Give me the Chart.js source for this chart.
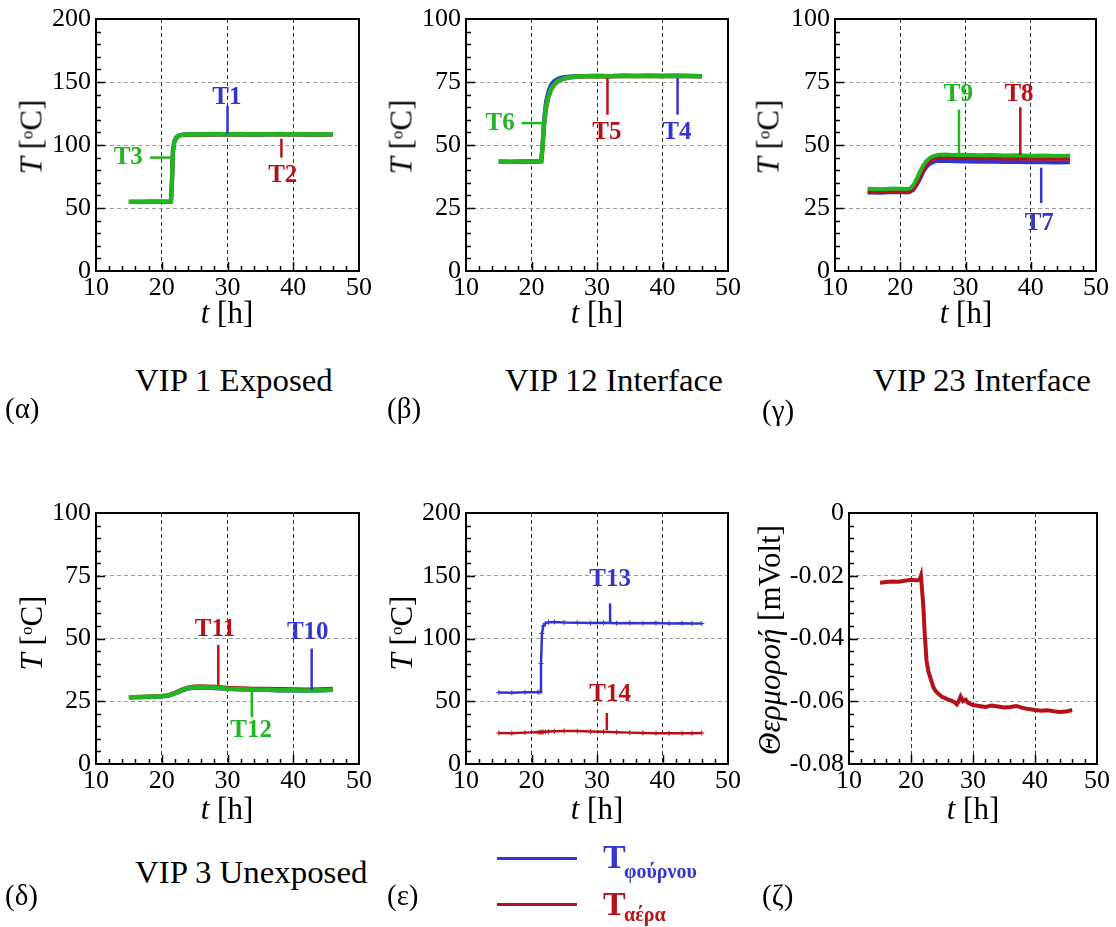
<!DOCTYPE html>
<html>
<head>
<meta charset="utf-8">
<script src="https://cdn.jsdelivr.net/npm/chart.js@4.4.0/dist/chart.umd.min.js"></script>
<style>
body { margin: 0; background: #fff; }
#page { position: relative; width: 1116px; height: 927px; overflow: hidden; font-family: 'Liberation Serif', 'DejaVu Serif', 'Noto Serif', serif; color: #000; }
.panel { position: absolute; }
.txt { position: absolute; white-space: nowrap; line-height: 1; }
.ctr { transform: translate(-50%, -50%); }
.rot { transform: translate(-50%, -50%) rotate(-90deg); }
.axt { font-size: 31px; }
.cap { font-size: 31px; transform: scaleX(1.06); transform-origin: 0 50%; }
.lab { font-size: 29px; }
sup.o { font-size: 0.55em; vertical-align: 0.55em; }
</style>
</head>
<body>
<div id="page">
    <div class="panel" id="pA"><canvas id="cA"></canvas></div>
    <div class="panel" id="pB"><canvas id="cB"></canvas></div>
    <div class="panel" id="pC"><canvas id="cC"></canvas></div>
    <div class="panel" id="pD"><canvas id="cD"></canvas></div>
    <div class="panel" id="pE"><canvas id="cE"></canvas></div>
    <div class="panel" id="pF"><canvas id="cF"></canvas></div>

    <!-- axis titles -->
    <div class="txt axt rot" style="left:31px;top:137px"><i>T</i> [<sup class="o">o</sup>C]</div>
    <div class="txt axt ctr" style="left:227px;top:312px"><i>t</i> [h]</div>
    <div class="txt axt rot" style="left:401px;top:137px"><i>T</i> [<sup class="o">o</sup>C]</div>
    <div class="txt axt ctr" style="left:597px;top:312px"><i>t</i> [h]</div>
    <div class="txt axt rot" style="left:768px;top:137px"><i>T</i> [<sup class="o">o</sup>C]</div>
    <div class="txt axt ctr" style="left:966px;top:312px"><i>t</i> [h]</div>
    <div class="txt axt rot" style="left:31px;top:633px"><i>T</i> [<sup class="o">o</sup>C]</div>
    <div class="txt axt ctr" style="left:227px;top:808px"><i>t</i> [h]</div>
    <div class="txt axt rot" style="left:401px;top:633px"><i>T</i> [<sup class="o">o</sup>C]</div>
    <div class="txt axt ctr" style="left:597px;top:808px"><i>t</i> [h]</div>
    <div class="txt axt rot" style="left:769px;top:640px"><i>Θερμοροή</i> [mVolt]</div>
    <div class="txt axt ctr" style="left:973px;top:808px"><i>t</i> [h]</div>

    <!-- captions -->
    <div class="txt lab" style="left:5px;top:394px">(α)</div>
    <div class="txt cap" style="left:135px;top:365px">VIP 1 Exposed</div>
    <div class="txt lab" style="left:387px;top:394px">(β)</div>
    <div class="txt cap" style="left:505px;top:365px">VIP 12 Interface</div>
    <div class="txt lab" style="left:762px;top:396px">(γ)</div>
    <div class="txt cap" style="left:873px;top:365px">VIP 23 Interface</div>
    <div class="txt lab" style="left:5px;top:881px">(δ)</div>
    <div class="txt cap" style="left:135px;top:857px">VIP 3 Unexposed</div>
    <div class="txt lab" style="left:387px;top:881px">(ε)</div>
    <div class="txt lab" style="left:762px;top:881px">(ζ)</div>

    <!-- legend of panel (ε) -->
    <div style="position:absolute;left:497px;top:857px;width:80px;height:3px;background:#3434d0"></div>
    <div style="position:absolute;left:497px;top:903px;width:80px;height:3px;background:#b51218"></div>
    <div class="txt" style="left:603px;top:840px;font-size:34px;font-weight:bold;color:#3434d0">T</div>
    <div class="txt" style="left:624px;top:861px;font-size:20px;font-weight:bold;color:#3434d0">φούρνου</div>
    <div class="txt" style="left:603px;top:887px;font-size:34px;font-weight:bold;color:#b51218">T</div>
    <div class="txt" style="left:624px;top:904px;font-size:20px;font-weight:bold;color:#b51218">αέρα</div>
</div>

<script>
var GREEN = '#22b522';
var BLUE = '#3434d0';
var RED = '#b51218';
var SERIF = "'Liberation Serif', 'DejaVu Serif', 'Noto Serif', serif";

// (α) VIP 1 Exposed
var tA = [15, 17, 19, 21, 21.4, 21.55, 21.7, 21.9, 22.2, 22.6, 23.2, 24, 26, 28, 30, 32, 34, 36, 38, 40, 42, 44, 46];
var t1A = [54.9, 55.0, 55.1, 55.0, 55.1, 71, 96, 103, 106, 107.6, 108.3, 108.5, 108.3, 108.6, 108.4, 108.6, 108.3, 108.5, 108.6, 108.4, 108.5, 108.3, 108.4];
var t2A = [54.8, 54.9, 55.0, 54.9, 55.0, 69, 94, 102, 105.4, 107.2, 108.0, 108.3, 108.2, 108.4, 108.3, 108.5, 108.2, 108.4, 108.5, 108.3, 108.4, 108.2, 108.3];
var t3A = [55.0, 54.8, 55.0, 55.1, 55.2, 70, 95, 102, 105.5, 107.3, 108.2, 108.6, 108.4, 108.7, 108.5, 108.8, 108.4, 108.6, 108.7, 108.5, 108.6, 108.4, 108.5];

// (β) VIP 12 Interface
var tB = [15, 17, 19, 21, 21.5, 21.7, 21.9, 22.2, 22.6, 23, 23.5, 24, 24.6, 25.4, 26.5, 28, 30, 32, 34, 36, 38, 40, 42, 44, 46];
var t4B = [43.5, 43.4, 43.6, 43.5, 43.7, 51, 60, 67, 71.5, 74, 75.5, 76.3, 76.8, 77.1, 77.3, 77.4, 77.5, 77.4, 77.6, 77.5, 77.6, 77.5, 77.6, 77.5, 77.4];
var t5B = [43.4, 43.3, 43.5, 43.4, 43.5, 49, 57, 64, 69, 72, 74, 75.1, 76, 76.6, 77.0, 77.2, 77.3, 77.2, 77.4, 77.3, 77.4, 77.3, 77.4, 77.3, 77.2];
var t6B = [43.5, 43.4, 43.6, 43.5, 43.6, 50, 58, 65, 69.5, 72.5, 74.2, 75.3, 76.1, 76.7, 77.1, 77.3, 77.4, 77.3, 77.5, 77.4, 77.5, 77.4, 77.5, 77.4, 77.3];

// (γ) VIP 23 Interface
var tC = [15, 17, 19, 21, 21.5, 22, 22.5, 23, 23.5, 24, 24.5, 25, 25.5, 26, 27, 28, 30, 32, 34, 36, 38, 40, 42, 44, 46];
var t7C = [31.2, 31.1, 31.3, 31.2, 31.4, 32.2, 34, 36.5, 39.2, 41.3, 42.5, 43.2, 43.5, 43.7, 43.7, 43.6, 43.5, 43.4, 43.4, 43.3, 43.3, 43.2, 43.2, 43.1, 43.2];
var t8C = [31.4, 31.3, 31.5, 31.4, 31.6, 32.5, 34.5, 37.2, 40, 42.2, 43.5, 44.3, 44.7, 44.9, 45.0, 44.8, 44.9, 44.7, 44.8, 44.6, 44.7, 44.5, 44.6, 44.5, 44.5];
var t9C = [32.6, 32.4, 32.7, 32.5, 32.8, 34, 36.5, 39.2, 41.8, 43.6, 44.8, 45.5, 45.9, 46.1, 46.2, 46.0, 46.1, 45.9, 46.0, 45.8, 45.9, 45.7, 45.8, 45.6, 45.7];

// (δ) VIP 3 Unexposed
var tD = [15, 17, 19, 20, 21, 22, 23, 24, 25, 26, 27, 28, 29, 30, 32, 34, 36, 38, 40, 42, 44, 46];
var t10D = [26.5, 26.6, 26.8, 26.9, 27.2, 28.0, 29.1, 30.0, 30.4, 30.5, 30.4, 30.2, 30.1, 29.9, 29.7, 29.5, 29.5, 29.3, 29.3, 29.2, 29.3, 29.5];
var t11D = [26.6, 26.8, 27.0, 27.1, 27.4, 28.4, 29.6, 30.5, 30.9, 31.0, 30.9, 30.8, 30.6, 30.4, 30.2, 30.0, 30.0, 29.9, 29.8, 29.7, 29.8, 30.0];
var t12D = [26.6, 26.7, 26.9, 27.0, 27.3, 28.2, 29.3, 30.2, 30.6, 30.7, 30.6, 30.4, 30.3, 30.0, 29.8, 29.6, 29.6, 29.4, 29.4, 29.3, 29.4, 29.6];

// (ε) oven and air
var tE = [15, 17, 19, 21, 21.3, 21.45, 21.6, 21.8, 22.1, 22.6, 23.5, 25, 27, 29, 31, 33, 35, 37, 39, 41, 43, 44.5, 46];
var t13E = [57.0, 56.8, 57.1, 57.2, 57.4, 80, 104, 110, 112, 113, 113.2, 112.8, 112.6, 112.3, 112.5, 112.2, 112.4, 112.1, 112.3, 112.0, 112.2, 112.0, 111.9];
var t14E = [24.7, 24.6, 25.0, 25.3, 25.3, 25.4, 25.4, 25.5, 25.6, 25.8, 26.0, 26.3, 26.2, 25.9, 25.6, 25.3, 25.0, 24.8, 24.6, 24.5, 24.5, 24.6, 24.7];

// (ζ) heat flux
var tF = [15, 16, 17, 18, 19, 20, 21, 21.4, 21.6, 21.8, 22.0, 22.2, 22.5, 22.8, 23.2, 23.6, 24, 24.5, 25, 25.5, 26, 26.5, 27, 27.4, 27.7, 28, 28.4, 28.8, 29.2, 30, 31, 32, 33, 34, 35, 36, 37, 38, 39, 40, 41, 42, 43, 44, 45, 46];
var fluxF = [-0.0222, -0.0220, -0.0218, -0.0219, -0.0216, -0.0213, -0.0215, -0.0212, -0.0200, -0.0250, -0.0300, -0.0380, -0.0470, -0.0505, -0.0530, -0.0555, -0.0568, -0.0578, -0.0586, -0.0590, -0.0595, -0.0598, -0.0603, -0.0610, -0.0600, -0.0585, -0.0600, -0.0595, -0.0605, -0.0612, -0.0615, -0.0618, -0.0614, -0.0617, -0.0620, -0.0618, -0.0615, -0.0621, -0.0625, -0.0628, -0.0630, -0.0629, -0.0632, -0.0634, -0.0633, -0.0628];

function pts(xs, ys) {
    return xs.map(function(x, i) { return { x: x, y: ys[i] }; });
}

// inward ticks (major + minor) and the black frame
var frameTicks = {
    id: 'frameTicks',
    afterDraw: function(chart, args, opts) {
        var ctx = chart.ctx, a = chart.chartArea;
        var xs = chart.scales.x, ys = chart.scales.y;
        ctx.save();
        ctx.strokeStyle = '#000';
        ctx.lineWidth = 1.5;
        ctx.beginPath();
        var n = Math.round((xs.max - xs.min) / opts.xMinor);
        var every = Math.round(opts.xMajor / opts.xMinor);
        for (var i = 1; i < n; i++) {
            var px = Math.round(xs.getPixelForValue(xs.min + i * opts.xMinor)) + 0.5;
            var len = (i % every === 0) ? 9 : 5;
            ctx.moveTo(px, a.bottom);
            ctx.lineTo(px, a.bottom - len);
        }
        n = Math.round((ys.max - ys.min) / opts.yMinor);
        every = Math.round(opts.yMajor / opts.yMinor);
        for (var j = 1; j < n; j++) {
            var py = Math.round(ys.getPixelForValue(ys.min + j * opts.yMinor)) + 0.5;
            var len2 = (j % every === 0) ? 9 : 5;
            ctx.moveTo(a.left, py);
            ctx.lineTo(a.left + len2, py);
        }
        ctx.stroke();
        ctx.lineWidth = 2;
        ctx.strokeRect(a.left, a.top, a.right - a.left, a.bottom - a.top);
        ctx.restore();
    }
};

// sensor labels with leader lines, placed in data units
var sensorTags = {
    id: 'sensorTags',
    afterDatasetsDraw: function(chart, args, opts) {
        var ctx = chart.ctx;
        var xs = chart.scales.x, ys = chart.scales.y;
        ctx.save();
        (opts.items || []).forEach(function(it) {
            ctx.strokeStyle = it.color;
            ctx.lineWidth = 2.5;
            ctx.beginPath();
            ctx.moveTo(xs.getPixelForValue(it.line[0]), ys.getPixelForValue(it.line[1]));
            ctx.lineTo(xs.getPixelForValue(it.line[2]), ys.getPixelForValue(it.line[3]));
            ctx.stroke();
            ctx.fillStyle = it.color;
            ctx.font = 'bold 25px ' + SERIF;
            ctx.textAlign = 'center';
            ctx.textBaseline = 'middle';
            ctx.fillText(it.text, xs.getPixelForValue(it.at[0]), ys.getPixelForValue(it.at[1]));
        });
        ctx.restore();
    }
};

// box: plot area in page pixels, axisW: room for y tick labels
function makePanel(id, box, y, series, tags) {
    var padTop = 20, padRight = 22, bottomH = 45;
    var holder = document.getElementById('p' + id);
    var w = box.r - box.l + box.axisW + padRight;
    var h = box.b - box.t + padTop + bottomH;
    holder.style.left = (box.l - box.axisW) + 'px';
    holder.style.top = (box.t - padTop) + 'px';
    var canvas = document.getElementById('c' + id);
    canvas.width = w;
    canvas.height = h;
    canvas.style.width = w + 'px';
    canvas.style.height = h + 'px';

    var tickFont = { family: SERIF, size: 26 };

    return new Chart(canvas, {
        type: 'line',
        data: {
            datasets: series.map(function(s) {
                return {
                    data: s.data,
                    borderColor: s.color,
                    backgroundColor: s.color,
                    borderWidth: s.width,
                    pointRadius: s.points || 0,
                    pointStyle: 'cross',
                    pointBorderWidth: 1,
                    tension: 0,
                    fill: false
                };
            })
        },
        options: {
            responsive: false,
            animation: false,
            devicePixelRatio: 1,
            layout: { padding: { top: padTop, right: padRight, left: 0, bottom: 0 } },
            plugins: {
                legend: { display: false },
                tooltip: { enabled: false },
                frameTicks: { xMinor: 2, xMajor: 10, yMinor: y.minor, yMajor: y.step },
                sensorTags: { items: tags }
            },
            scales: {
                x: {
                    type: 'linear',
                    min: 10, max: 50,
                    ticks: { stepSize: 10, color: '#000', font: tickFont, padding: 2, maxRotation: 0 },
                    grid: { color: '#333', lineWidth: 1, drawTicks: false },
                    border: { display: false, dash: [4, 3] },
                    afterFit: function(s) { s.height = bottomH; s.paddingLeft = 0; s.paddingRight = 0; }
                },
                y: {
                    type: 'linear',
                    min: y.min, max: y.max,
                    ticks: { stepSize: y.step, color: '#000', font: tickFont, padding: 5, callback: y.fmt },
                    grid: { color: '#9a9a9a', lineWidth: 1, drawTicks: false },
                    border: { display: false, dash: [4, 3] },
                    afterFit: function(s) { s.width = box.axisW; s.paddingTop = 0; s.paddingBottom = 0; }
                }
            }
        },
        plugins: [frameTicks, sensorTags]
    });
}

var yT200 = { min: 0, max: 200, step: 50, minor: 10 };
var yT100 = { min: 0, max: 100, step: 25, minor: 5 };
var yFlux = { min: -0.08, max: 0, step: 0.02, minor: 0.004,
    fmt: function(v) { return Math.abs(v) < 1e-9 ? '0' : v.toFixed(2); } };

makePanel('A', { l: 96, r: 359, t: 19, b: 271, axisW: 96 }, yT200, [
    { data: pts(tA, t3A), color: GREEN, width: 4.5 },
    { data: pts(tA, t2A), color: RED, width: 4 },
    { data: pts(tA, t1A), color: BLUE, width: 4 }
], [
    { text: 'T1', color: BLUE, at: [29.9, 138], line: [30, 131, 30, 109] },
    { text: 'T2', color: RED, at: [38.4, 76], line: [38.2, 105, 38.2, 90] },
    { text: 'T3', color: GREEN, at: [14.9, 90], line: [18.2, 90, 21.6, 90] }
]);

makePanel('B', { l: 466, r: 728, t: 19, b: 271, axisW: 96 }, yT100, [
    { data: pts(tB, t6B), color: GREEN, width: 4.5 },
    { data: pts(tB, t5B), color: RED, width: 4 },
    { data: pts(tB, t4B), color: BLUE, width: 4 }
], [
    { text: 'T6', color: GREEN, at: [15.2, 58.7], line: [18.5, 58.7, 21.8, 58.7] },
    { text: 'T5', color: RED, at: [31.5, 55], line: [31.6, 76.6, 31.6, 62] },
    { text: 'T4', color: BLUE, at: [42.2, 55], line: [42.3, 76.6, 42.3, 62] }
]);

makePanel('C', { l: 835, r: 1096, t: 19, b: 271, axisW: 95 }, yT100, [
    { data: pts(tC, t9C), color: GREEN, width: 4 },
    { data: pts(tC, t8C), color: RED, width: 4 },
    { data: pts(tC, t7C), color: BLUE, width: 4 }
], [
    { text: 'T9', color: GREEN, at: [28.9, 70], line: [29, 64, 29, 46] },
    { text: 'T8', color: RED, at: [38.2, 70], line: [38.4, 65, 38.4, 46] },
    { text: 'T7', color: BLUE, at: [41.3, 19], line: [41.6, 41, 41.6, 27] }
]);

makePanel('D', { l: 96, r: 359, t: 513, b: 764, axisW: 96 }, yT100, [
    { data: pts(tD, t12D), color: GREEN, width: 4.5 },
    { data: pts(tD, t11D), color: RED, width: 4 },
    { data: pts(tD, t10D), color: BLUE, width: 4 }
], [
    { text: 'T11', color: RED, at: [28.1, 53.4], line: [28.6, 47.4, 28.6, 31.5] },
    { text: 'T10', color: BLUE, at: [42.2, 52.2], line: [42.8, 46, 42.8, 29.5] },
    { text: 'T12', color: GREEN, at: [33.6, 13.5], line: [33.7, 28.7, 33.7, 18.7] }
]);

makePanel('E', { l: 466, r: 728, t: 513, b: 764, axisW: 96 }, yT200, [
    { data: pts(tE, t13E), color: BLUE, width: 2.5, points: 2.5 },
    { data: pts(tE, t14E), color: RED, width: 2.5, points: 2.5 }
], [
    { text: 'T13', color: BLUE, at: [32.0, 146.6], line: [32.0, 128, 32.0, 113] },
    { text: 'T14', color: RED, at: [32.0, 55], line: [31.5, 40.6, 31.5, 27] }
]);

makePanel('F', { l: 849, r: 1097, t: 513, b: 764, axisW: 109 }, yFlux, [
    { data: pts(tF, fluxF), color: RED, width: 4 }
], []);
</script>
</body>
</html>
